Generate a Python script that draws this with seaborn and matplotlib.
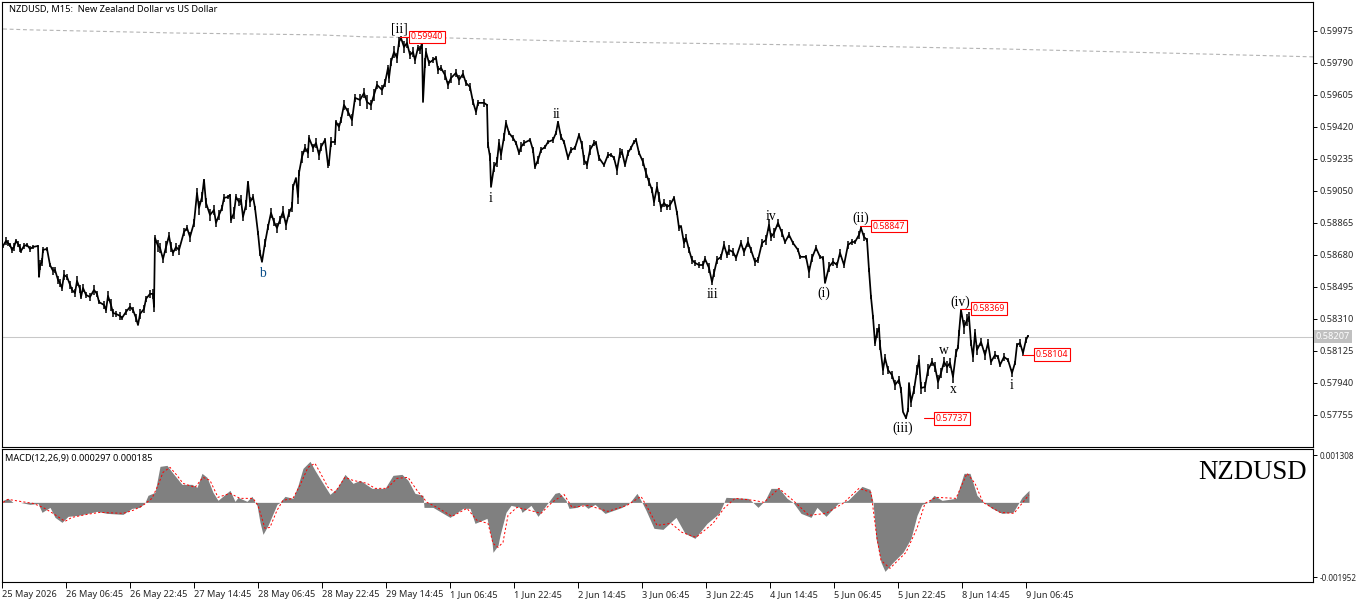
#!/usr/bin/env python3
"""NZDUSD M15 chart with wave counts and a MACD pane."""

import matplotlib
matplotlib.use("Agg")
import matplotlib.pyplot as plt
import numpy as np
import seaborn as sns

# price path (bar number, price)
price_bars = [
    3, 6, 8, 10, 12, 14, 16, 18, 20, 21, 24, 27, 30, 33, 38, 39, 40, 42, 43, 47,
    50, 53, 55, 58, 60, 62, 64, 67, 70, 72, 75, 77, 80, 81, 83, 86, 90, 94, 97, 99,
    104, 106, 108, 111, 113, 116, 120, 122, 126, 130, 133, 136, 138, 140, 144, 146, 150, 153, 154, 155,
    158, 160, 163, 166, 169, 171, 173, 176, 179, 184, 187, 190, 194, 197, 199, 202, 204, 206, 210, 214,
    216, 219, 222, 224, 228, 230, 231, 234, 236, 239, 241, 243, 246, 248, 250, 253, 255, 258, 260, 262,
    265, 268, 271, 274, 277, 280, 283, 286, 289, 292, 293, 296, 298, 299, 302, 305, 308, 309, 313, 316,
    319, 321, 325, 328, 329, 331, 335, 336, 339, 341, 344, 348, 352, 355, 360, 364, 367, 371, 374, 377,
    382, 385, 388, 389, 391, 394, 397, 399, 401, 404, 407, 410, 413, 415, 418, 420, 422, 423, 425, 426,
    429, 433, 436, 438, 441, 445, 448, 451, 456, 459, 463, 466, 470, 473, 476, 478, 484, 487, 488, 490,
    491, 494, 497, 499, 501, 504, 506, 509, 513, 516, 519, 521, 524, 530, 533, 535, 538, 541, 545, 548,
    553, 556, 558, 561, 564, 568, 571, 575, 579, 582, 584, 587, 590, 594, 596, 599, 604, 608, 611, 614,
    617, 620, 622, 625, 628, 631, 634, 636, 639, 643, 646, 649, 652, 654, 657, 659, 661, 664, 667, 670,
    674, 677, 679, 681, 684, 686, 689, 692, 695, 699, 703, 705, 709, 712, 714, 717, 721, 724, 727, 729,
    733, 736, 741, 744, 748, 751, 755, 758, 762, 766, 769, 771, 774, 778, 782, 785, 789, 793, 798, 800,
    806, 809, 812, 816, 820, 823, 825, 829, 833, 837, 840, 844, 848, 852, 855, 859, 861, 864, 867, 869,
    871, 873, 875, 877, 879, 880, 883, 885, 888, 892, 895, 899, 901, 903, 906, 908, 909, 911, 914, 917,
    919, 921, 925, 928, 932, 935, 938, 941, 944, 947, 950, 953, 956, 958, 959, 961, 964, 967, 969, 971,
    973, 975, 977, 981, 985, 988, 991, 995, 998, 1000, 1004, 1008, 1012, 1015, 1017, 1020, 1023, 1026, 1028,
]
prices = [
    .58732, .58761, .58749, .58738, .58709, .58726, .58761, .58744, .58721, .58703, .58732, .58738, .58715, .58726, .58732, .58553, .58622, .58640, .58709, .58715,
    .58622, .58588, .58593, .58536, .58518, .58489, .58564, .58553, .58507, .58478, .58460, .58530, .58484, .58437, .58489, .58449, .58437, .58478, .58455, .58408,
    .58391, .58362, .58443, .58391, .58345, .58339, .58328, .58316, .58351, .58380, .58362, .58316, .58275, .58339, .58368, .58426, .58455, .58455, .58380, .58778,
    .58732, .58721, .58657, .58726, .58790, .58726, .58692, .58726, .58709, .58813, .58836, .58784, .58865, .59038, .58952, .59015, .59114, .58981, .58911, .58940,
    .58865, .58911, .58952, .59010, .59015, .59027, .58882, .58923, .59015, .58986, .58998, .58900, .58969, .59102, .58986, .59015, .58952, .58807, .58692, .58640,
    .58749, .58842, .58923, .58871, .58836, .58882, .58929, .58854, .58923, .58958, .59073, .59125, .59015, .59154, .59247, .59299, .59270, .59356, .59299, .59327,
    .59258, .59304, .59345, .59200, .59212, .59333, .59333, .59449, .59420, .59460, .59547, .59507, .59460, .59588, .59576, .59616, .59564, .59547, .59605, .59663,
    .59634, .59674, .59761, .59703, .59796, .59853, .59819, .59911, .59934, .59882, .59905, .59836, .59853, .59807, .59877, .59865, .59905, .59564, .59790, .59853,
    .59790, .59807, .59819, .59749, .59761, .59720, .59663, .59703, .59732, .59692, .59726, .59674, .59651, .59564, .59507, .59559, .59559, .59547, .59316, .59247,
    .59073, .59189, .59218, .59327, .59258, .59362, .59443, .59385, .59356, .59327, .59270, .59304, .59327, .59345, .59287, .59189, .59229, .59287, .59304, .59333,
    .59345, .59385, .59449, .59362, .59333, .59241, .59287, .59299, .59374, .59316, .59229, .59200, .59287, .59327, .59327, .59241, .59200, .59258, .59258, .59241,
    .59171, .59270, .59275, .59200, .59270, .59299, .59333, .59345, .59270, .59218, .59154, .59102, .59056, .58986, .59073, .59015, .58952, .58981, .58958, .58969,
    .59010, .58923, .58836, .58848, .58749, .58778, .58709, .58651, .58634, .58622, .58622, .58657, .58605, .58524, .58576, .58651, .58669, .58738, .58680, .58709,
    .58697, .58663, .58749, .58697, .58755, .58709, .58640, .58651, .58749, .58767, .58854, .58784, .58807, .58865, .58807, .58755, .58796, .58749, .58709, .58669,
    .58669, .58582, .58663, .58721, .58669, .58663, .58518, .58611, .58640, .58622, .58692, .58622, .58738, .58755, .58755, .58796, .58836, .58784, .58767, .58593,
    .58437, .58322, .58171, .58229, .58258, .58160, .58015, .58085, .58015, .57986, .57929, .57958, .57900, .57773, .57738, .57784, .57940, .57830, .57900, .58015,
    .58073, .57911, .57917, .58015, .58062, .58033, .57946, .57998, .58062, .58033, .58056, .57975, .58114, .58148, .58229, .58362, .58264, .58304, .58322, .58171,
    .58091, .58229, .58131, .58177, .58102, .58171, .58062, .58102, .58091, .58044, .58091, .58073, .57998, .58056, .58160, .58171, .58114, .58189, .58212,
]

# rough half range of the bar at each of those points, estimated by eye
bar_spread = [
    .00012, .00023, .00017, .00012, .00017, .00023, .00012, .00017, .00023, .00012, .00017, .00012, .00017, .00012, .00006, .00000, .00029, .00023, .00017, .00012,
    .00012, .00023, .00017, .00023, .00023, .00017, .00029, .00017, .00023, .00017, .00023, .00029, .00023, .00012, .00023, .00017, .00023, .00029, .00017, .00012,
    .00023, .00017, .00029, .00035, .00023, .00017, .00023, .00012, .00017, .00023, .00017, .00023, .00000, .00029, .00023, .00017, .00023, .00029, .00029, .00017,
    .00035, .00029, .00023, .00035, .00023, .00029, .00017, .00023, .00029, .00023, .00017, .00029, .00023, .00029, .00040, .00029, .00006, .00029, .00035, .00029,
    .00023, .00029, .00017, .00023, .00012, .00006, .00017, .00035, .00017, .00023, .00029, .00023, .00029, .00006, .00029, .00017, .00012, .00012, .00017, .00000,
    .00023, .00017, .00029, .00023, .00029, .00023, .00035, .00029, .00023, .00029, .00017, .00000, .00040, .00017, .00035, .00023, .00029, .00017, .00023, .00029,
    .00029, .00023, .00012, .00017, .00017, .00029, .00017, .00012, .00023, .00017, .00029, .00023, .00035, .00023, .00035, .00029, .00040, .00029, .00035, .00023,
    .00029, .00023, .00017, .00029, .00023, .00035, .00029, .00029, .00012, .00035, .00029, .00023, .00029, .00023, .00017, .00023, .00017, .00000, .00029, .00023,
    .00017, .00017, .00012, .00023, .00017, .00029, .00023, .00029, .00023, .00029, .00023, .00017, .00023, .00017, .00017, .00017, .00023, .00006, .00017, .00023,
    .00000, .00029, .00029, .00023, .00029, .00023, .00017, .00012, .00017, .00012, .00012, .00029, .00017, .00012, .00017, .00012, .00023, .00017, .00012, .00012,
    .00017, .00012, .00006, .00017, .00012, .00012, .00017, .00012, .00012, .00023, .00029, .00023, .00029, .00017, .00012, .00017, .00012, .00017, .00012, .00012,
    .00029, .00029, .00017, .00012, .00017, .00012, .00012, .00012, .00012, .00023, .00029, .00023, .00017, .00023, .00029, .00029, .00023, .00023, .00017, .00029,
    .00012, .00012, .00017, .00000, .00029, .00023, .00017, .00023, .00017, .00017, .00023, .00017, .00029, .00017, .00023, .00023, .00017, .00023, .00017, .00029,
    .00023, .00017, .00017, .00023, .00029, .00017, .00023, .00017, .00023, .00029, .00035, .00023, .00029, .00023, .00023, .00012, .00017, .00012, .00012, .00012,
    .00012, .00035, .00023, .00017, .00012, .00012, .00000, .00029, .00023, .00017, .00023, .00017, .00023, .00017, .00012, .00023, .00012, .00023, .00012, .00012,
    .00012, .00012, .00017, .00029, .00023, .00029, .00029, .00023, .00023, .00023, .00029, .00023, .00017, .00000, .00006, .00012, .00000, .00029, .00023, .00029,
    .00029, .00035, .00029, .00035, .00023, .00029, .00040, .00029, .00029, .00035, .00029, .00035, .00023, .00012, .00017, .00000, .00040, .00035, .00029, .00017,
    .00029, .00023, .00029, .00023, .00029, .00023, .00017, .00023, .00012, .00012, .00023, .00012, .00023, .00012, .00012, .00023, .00017, .00017, .00006,
]

# long moving average
ma_bars = [3, 30, 127, 173, 320, 368, 450, 600, 800, 1000, 1200, 1313]
ma_values = [.59986, .59981, .59969, .59963, .59952, .59940, .59934, .59911, .59894, .59871, .59842, .59825]

last_price = 0.58207

price_ticks = [0.59975, 0.59790, 0.59605, 0.59420, 0.59235, 0.59050, 0.58865,
               0.58680, 0.58495, 0.58310, 0.58125, 0.57940, 0.57755]

date_labels = ["25 May 2026", "26 May 06:45", "26 May 22:45", "27 May 14:45", "28 May 06:45",
               "28 May 22:45", "29 May 14:45", "1 Jun 06:45", "1 Jun 22:45", "2 Jun 14:45",
               "3 Jun 06:45", "3 Jun 22:45", "4 Jun 14:45", "5 Jun 06:45", "5 Jun 22:45",
               "8 Jun 14:45", "9 Jun 06:45"]
date_ticks = [2, 66, 130, 194, 258, 322, 386, 450, 514, 578, 642, 706, 770, 834, 898, 962, 1026]

# wave counts
wave_text = ["[ii]", "b", "i", "ii", "iii", "iv", "(i)", "(ii)", "(iii)", "(iv)", "w", "x", "i"]
wave_bars = [399, 262, 491, 557, 712, 771, 824, 861, 903, 960, 944, 953, 1012]
wave_prices = [.59986, .58570, .59009, .59489, .58454, .58905, .58460, .58894, .57680, .58408, .58125, .57905, .57928]

# swing price tags: leader start, leader end, price
tag_from = [400, 860, 960, 924, 1023]
tag_to = [409, 871, 971, 934, 1034]
tag_prices = [0.59940, 0.58847, 0.58369, 0.57737, 0.58104]

# MACD histogram
hist_bars = [
    3, 8, 13, 20, 30, 38, 42, 50, 55, 62, 68, 78, 97, 107, 123, 132, 140, 145, 148, 155,
    160, 167, 173, 182, 192, 197, 202, 207, 213, 218, 230, 235, 238, 247, 252, 255, 257, 260, 263, 268,
    277, 280, 285, 293, 298, 303, 310, 315, 323, 330, 337, 345, 353, 360, 372, 385, 393, 402, 408, 415,
    423, 424, 433, 450, 463, 470, 475, 487, 492, 493, 498, 500, 506, 511, 520, 522, 531, 538, 546, 555,
    559, 566, 569, 577, 583, 588, 595, 605, 622, 630, 637, 642, 646, 654, 663, 676, 685, 695, 707, 719,
    724, 726, 748, 753, 758, 765, 771, 779, 787, 793, 801, 811, 817, 826, 838, 848, 862, 870, 873, 876,
    881, 885, 893, 903, 911, 917, 922, 928, 934, 942, 956, 964, 970, 977, 984, 992, 1002, 1013, 1019, 1022,
    1029,
]
hist_values = [
    .000049, .000098, 0, 0, -.000049, -.000025, -.000245, -.000123, -.000368, -.000490,
    -.000343, -.000319, -.000221, -.000270, -.000294, -.000147, -.000123, 0, .000172, .000245,
    .000882, .000907, .000711, .000441, .000441, .000368, .000711, .000613, .000245, .000049,
    .000294, .000025, .000123, .000025, .000147, 0, -.000074, -.000490, -.000784, -.000564,
    -.000049, 0, .000147, .000098, .000417, .000833, .001005, .000784, .000466, .000196,
    .000343, .000686, .000466, .000539, .000343, .000343, .000662, .000686, .000539, .000221,
    .000172, -.000123, -.000123, -.000368, -.000147, -.000147, -.000515, -.000392, -.000980, -.001225,
    -.001054, -.000809, -.000245, -.000074, -.000123, -.000245, -.000074, -.000343, -.000074, .000221,
    .000245, .000049, -.000147, -.000123, -.000049, -.000147, -.000049, -.000270, -.000123, 0,
    .000221, 0, -.000196, -.000637, -.000662, -.000368, -.000760, -.000882, -.000515, -.000270,
    0, .000123, .000098, 0, -.000123, .000049, .000343, .000343, .000098, 0,
    -.000270, -.000368, -.000123, -.000343, -.000025, .000049, .000392, .000319, 0, -.000882,
    -.001470, -.001691, -.001470, -.001225, -.000882, -.000319, -.000049, 0, .000172, .000049,
    .000098, .000711, .000711, .000172, 0, -.000147, -.000270, -.000245, 0, .000123,
    .000294,
]

# MACD signal
signal_bars = [
    3, 8, 20, 33, 43, 53, 65, 72, 87, 100, 123, 133, 143, 152, 158, 163, 170, 177, 183, 195,
    203, 210, 218, 230, 240, 253, 258, 265, 270, 277, 283, 293, 300, 308, 315, 320, 328, 335, 345, 353,
    367, 375, 387, 397, 408, 417, 427, 437, 452, 467, 477, 488, 493, 498, 503, 508, 517, 530, 541, 552,
    564, 572, 588, 608, 627, 641, 649, 657, 671, 682, 696, 713, 724, 735, 754, 764, 779, 793, 809, 826,
    843, 859, 871, 877, 881, 890, 906, 917, 925, 936, 956, 967, 975, 983, 1000, 1014, 1022, 1029,
]
signal_values = [
    0, .000074, .000025, -.000025, -.000123, -.000270, -.000466, -.000368, -.000294, -.000245,
    -.000270, -.000196, -.000074, .000098, .000417, .000735, .000858, .000662, .000466, .000368,
    .000613, .000539, .000123, .000221, .000098, .000098, -.000074, -.000637, -.000613, -.000196,
    .000049, .000098, .000417, .000858, .000956, .000735, .000368, .000245, .000613, .000539,
    .000466, .000343, .000343, .000588, .000613, .000294, 0, -.000123, -.000343, -.000147,
    -.000441, -.000515, -.001005, -.001103, -.000980, -.000319, -.000123, -.000196, -.000270, 0,
    .000196, -.000123, -.000074, -.000221, -.000074, .000147, -.000196, -.000564, -.000515, -.000735,
    -.000858, -.000515, -.000147, .000098, .000049, 0, .000343, .000049, -.000319, -.000270,
    -.000025, .000343, .000245, -.000882, -.001421, -.001617, -.001225, -.000637, -.000025, .000123,
    .000098, .000711, .000466, 0, -.000245, -.000270, -.000025, .000185,
]

macd_top = 0.001308
macd_bottom = -0.001952

FW, FH = 1366, 603
UI_FONT = ["Noto Sans", "DejaVu Sans"]
SERIF = ["Liberation Serif", "DejaVu Serif"]


def pane(fig, top, bottom):
    ax = fig.add_axes([2 / FW, 1 - bottom / FH, (1313 - 2) / FW, (bottom - top) / FH])
    ax.set_xlim(2, 1313)
    for spine in ax.spines.values():
        spine.set_linewidth(0.8)
        spine.set_color("black")
    ax.tick_params(left=False, labelleft=False, right=True, labelright=True,
                   bottom=False, labelbottom=False, length=3, width=0.7,
                   color="black", labelsize=6.6, pad=1.5)
    return ax


def main():
    sns.set_theme(style="white")
    plt.rcParams["font.family"] = UI_FONT

    fig = plt.figure(figsize=(FW / 100, FH / 100), dpi=100, facecolor="white")
    ax = pane(fig, 2, 447)
    macd_ax = pane(fig, 449, 582)

    # price pane
    ax.set_ylim(0.57570, 0.60142)
    ax.set_yticks(price_ticks)
    ax.set_yticklabels([f"{p:.5f}" for p in price_ticks])
    ax.set_xticks([])

    sns.lineplot(x=ma_bars, y=ma_values, ax=ax, color="#b4b4b4", linewidth=0.8,
                 linestyle=(0, (3.5, 2.5)), errorbar=None)
    ax.axhline(last_price, color="#c8c8c8", linewidth=0.75, zorder=1)
    sns.lineplot(x=price_bars, y=prices, ax=ax, color="black", linewidth=1.25,
                 errorbar=None, zorder=3)
    # high-low ranges give the line its ragged look
    mid = np.array(prices)
    spread = np.array(bar_spread)
    ax.vlines(price_bars, mid - spread, mid + spread, color="black", linewidth=1.1, zorder=3)

    ax.text(1316, last_price, f"{last_price:.5f}", color="white", fontsize=6.6, va="center",
            ha="left", clip_on=False, bbox=dict(fc="#c0c0c0", ec="none", pad=1.6))

    for text, b, p in zip(wave_text, wave_bars, wave_prices):
        ax.text(b, p, text, family=SERIF, fontsize=9.8, color="#0b4f8a" if text == "b" else "black",
                ha="center", va="center", zorder=5)

    for start, end, tag in zip(tag_from, tag_to, tag_prices):
        ax.plot([start, end], [tag, tag], color="red", linewidth=0.8, zorder=4)
        ax.text(end + 2, tag, f"{tag:.5f}", color="red", fontsize=6.3, ha="left", va="center",
                zorder=6, bbox=dict(fc="white", ec="red", linewidth=0.8, pad=1.4))

    ax.text(7 / 1311, 0.9835, "NZDUSD, M15:  New Zealand Dollar vs US Dollar", transform=ax.transAxes,
            fontsize=6.7, color="black", ha="left", va="center")

    # MACD pane
    macd_ax.set_ylim(macd_bottom, macd_top)
    macd_ax.fill_between(hist_bars, hist_values, 0, color="#808080", linewidth=0, zorder=2)
    sns.lineplot(x=signal_bars, y=signal_values, ax=macd_ax, color="red", linewidth=0.7,
                 linestyle=(0, (2.2, 2.2)), errorbar=None, zorder=3)

    macd_ax.set_yticks([0.00116, -0.00183])
    macd_ax.set_yticklabels([f"{macd_top:.6f}", f"{macd_bottom:.6f}"], fontsize=5.8)
    macd_ax.set_xticks(date_ticks)
    macd_ax.set_xticklabels(date_labels, ha="left", fontsize=6.6)
    macd_ax.tick_params(axis="x", bottom=True, labelbottom=True, length=4, width=0.7, pad=1.5)

    macd_ax.text(3 / 1311, 0.93, "MACD(12,26,9) 0.000297 0.000185", transform=macd_ax.transAxes,
                 fontsize=6.6, color="black", ha="left", va="center")
    macd_ax.text(1305 / 1311, 0.825, "NZDUSD", transform=macd_ax.transAxes, family=SERIF,
                 fontsize=19.3, color="black", ha="right", va="center")

    fig.savefig("out.png", dpi=100, facecolor="white")
    plt.close(fig)


if __name__ == "__main__":
    main()
